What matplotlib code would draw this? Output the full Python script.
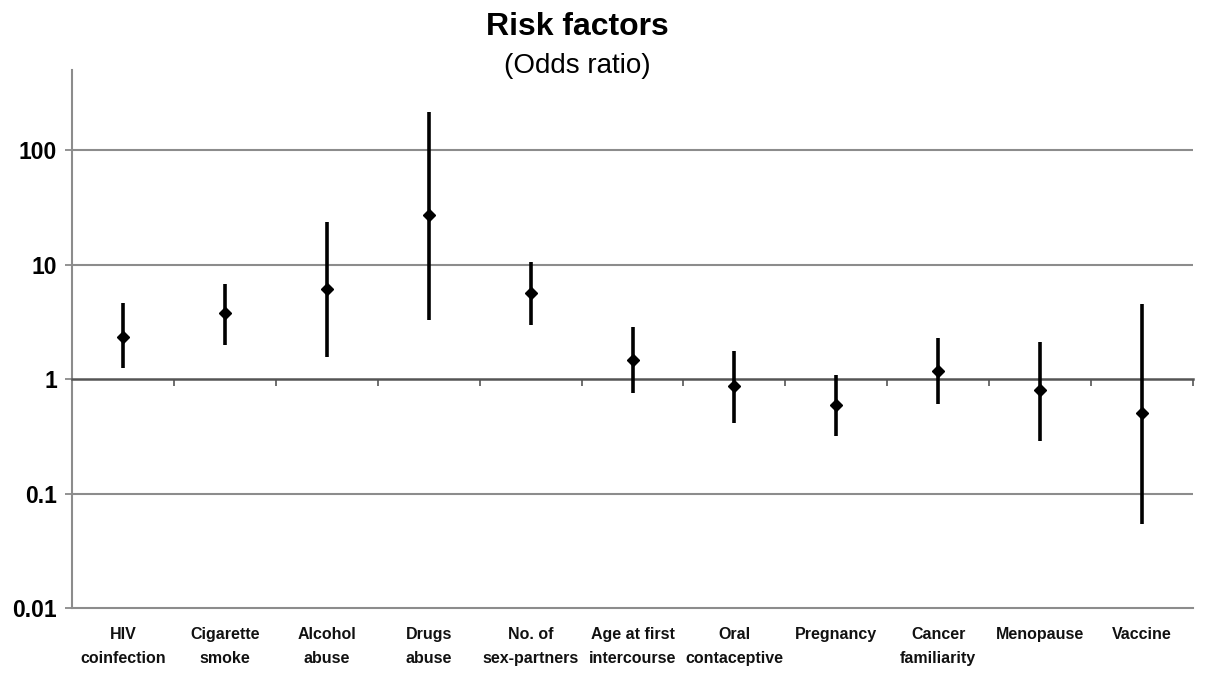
import numpy as np
import matplotlib
matplotlib.use("Agg")
import matplotlib.pyplot as plt

# data (odds ratios with lower / upper bounds)
categories = ["HIV\ncoinfection", "Cigarette\nsmoke", "Alcohol\nabuse", "Drugs\nabuse",
              "No. of\nsex-partners", "Age at first\nintercourse", "Oral\ncontaceptive",
              "Pregnancy", "Cancer\nfamiliarity", "Menopause", "Vaccine"]
odds = [2.33, 3.77, 6.1, 27.0, 5.65, 1.47, 0.87, 0.59, 1.17, 0.80, 0.50]
low = [1.25, 1.98, 1.56, 3.3, 2.96, 0.75, 0.41, 0.32, 0.60, 0.29, 0.054]
high = [4.6, 6.76, 23.5, 215.0, 10.5, 2.85, 1.76, 1.08, 2.28, 2.10, 4.5]
yticks = [0.01, 0.1, 1, 10, 100]
ytick_labels = ["0.01", "0.1", "1", "10", "100"]

plt.rcParams['font.family'] = ['Liberation Sans', 'DejaVu Sans']

fig = plt.figure(figsize=(12.05, 6.78), dpi=100)
ax = fig.add_axes([0.0598, 0.1032, 0.9302, 0.7936])

x = np.arange(len(categories))
odds = np.array(odds)
low = np.array(low)
high = np.array(high)

ax.vlines(x, low, high, color='black', lw=2.6, zorder=3)
ax.plot(x, odds, linestyle='none', marker='D', ms=6.5, color='black', zorder=4)

ax.set_yscale('log')
ax.set_ylim(0.01, 500)
ax.set_xlim(-0.5, len(categories) - 0.5)

# horizontal grid
for v in [0.1, 10, 100]:
    ax.axhline(v, color='#8c8c8c', lw=1.5, zorder=1)

ax.set_yticks(yticks)
ax.set_yticklabels(ytick_labels, fontsize=16.5, fontweight='bold')
ax.yaxis.set_minor_locator(matplotlib.ticker.NullLocator())
ax.tick_params(axis='y', length=5, width=1.2, color='#808080', pad=6)

# x axis crosses at 1, ticks between categories
ax.spines['bottom'].set_position(('data', 1))
ax.spines['bottom'].set_color('#555555')
ax.spines['bottom'].set_linewidth(1.8)
ax.set_xticks(np.arange(len(categories) + 1) - 0.5)
ax.set_xticklabels([])
ax.tick_params(axis='x', length=5, width=1.2, color='#555555', direction='out')
ax.spines['left'].set_color('#8c8c8c')
ax.spines['left'].set_linewidth(1.5)
ax.spines['top'].set_visible(False)
ax.spines['right'].set_visible(False)

# category labels along the bottom line (0.01)
sec = ax.secondary_xaxis(0)
sec.set_xticks(x)
sec.set_xticklabels(categories, fontsize=11.5, fontweight='bold', linespacing=1.75,
                    color='#111111')
sec.tick_params(length=0, pad=14)
sec.spines['bottom'].set_color('#8c8c8c')
sec.spines['bottom'].set_linewidth(1.5)

fig.text(0.479, 0.960, "Risk factors", ha='center', va='center', fontsize=23,
         fontweight='bold')
fig.text(0.479, 0.902, "(Odds ratio)", ha='center', va='center', fontsize=20)

fig.savefig("out.png", dpi=100)
